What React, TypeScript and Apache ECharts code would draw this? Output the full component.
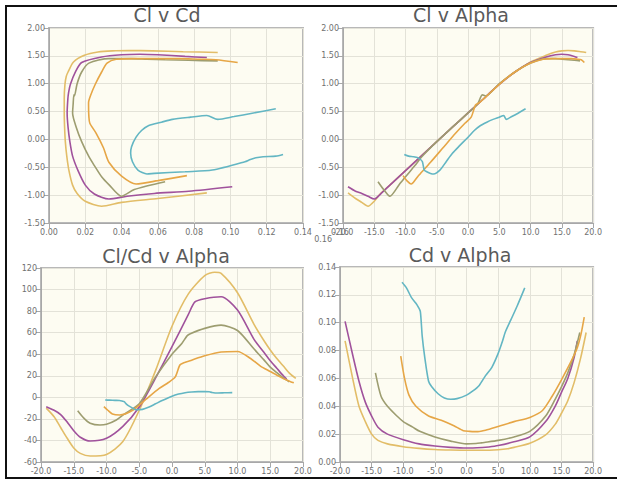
import React, { useEffect, useRef } from "react";
import * as echarts from "echarts";

// ---- data ----
const goldAlpha = [-19.2, -18, -17, -16, -15, -14, -12.5, -10, -7.5, -5, -2.5, 0, 2.5, 5, 6.5, 7.5, 10, 12.5, 14, 15, 16, 17, 18, 18.9];
const goldCl = [-0.96, -1.06, -1.13, -1.2, -1.11, -0.97, -0.82, -0.56, -0.3, -0.04, 0.22, 0.475, 0.73, 0.99, 1.13, 1.21, 1.39, 1.51, 1.57, 1.59, 1.595, 1.59, 1.575, 1.56];
const goldCd = [0.087, 0.06, 0.04, 0.029, 0.02, 0.0155, 0.013, 0.011, 0.0098, 0.009, 0.0086, 0.0084, 0.0084, 0.0088, 0.0095, 0.0105, 0.0135, 0.0195, 0.027, 0.035, 0.044, 0.057, 0.074, 0.093];
const goldClCd = [-10, -18, -28, -38, -47, -52, -54.5, -53, -41, -12, 25, 66, 96, 113, 116, 115, 97, 68, 53, 44, 36, 29, 22, 17.6];

const purpleAlpha = [-19.2, -18, -17, -16, -15, -14, -12.5, -10, -7.5, -5, -2.5, 0, 2.5, 3.5, 5, 7.5, 10, 12.5, 14, 15, 16, 17, 17.5];
const purpleCl = [-0.85, -0.93, -0.97, -1.02, -1.07, -0.98, -0.82, -0.56, -0.3, -0.04, 0.22, 0.475, 0.73, 0.84, 0.99, 1.21, 1.38, 1.48, 1.52, 1.53, 1.52, 1.49, 1.47];
const purpleCd = [0.101, 0.077, 0.058, 0.043, 0.033, 0.025, 0.02, 0.016, 0.013, 0.0115, 0.0105, 0.01, 0.0104, 0.0108, 0.0118, 0.0145, 0.018, 0.029, 0.04, 0.05, 0.06, 0.075, 0.087];
const purpleClCd = [-8.7, -12, -16, -23, -31, -37, -40.5, -38, -27, -9, 18, 47, 77, 88.5, 91.5, 93.3, 81, 54, 42, 34, 27, 20, 17];

const oliveAlpha = [-14.4, -13.5, -12.5, -11, -10, -8.5, -7.4, -5, -2.5, 0, 1.5, 2.3, 2.8, 5, 7.5, 10, 12.5, 14, 15, 16, 17, 17.9];
const oliveCl = [-0.76, -0.9, -1.02, -0.81, -0.67, -0.47, -0.31, -0.04, 0.22, 0.475, 0.63, 0.8, 0.78, 1.0, 1.21, 1.37, 1.45, 1.45, 1.44, 1.43, 1.42, 1.41];
const oliveCd = [0.064, 0.047, 0.04, 0.033, 0.029, 0.025, 0.022, 0.018, 0.015, 0.013, 0.0133, 0.0137, 0.014, 0.0155, 0.018, 0.022, 0.033, 0.045, 0.054, 0.064, 0.077, 0.093];
const oliveClCd = [-12.4, -19, -24, -25.7, -25, -21, -16, -6, 19, 40, 50, 57, 59, 64, 67, 62, 45, 35, 28, 23, 18, 14.5];

const orangeAlpha = [-10.4, -9.8, -9.1, -8, -6, -4, -2, -0.5, 0.5, 1.2, 1.8, 3, 5, 7.5, 10, 12, 13.5, 15, 16.5, 17.5, 18.1, 18.6];
const orangeCl = [-0.65, -0.74, -0.8, -0.66, -0.41, -0.15, 0.11, 0.29, 0.4, 0.62, 0.66, 0.78, 0.99, 1.21, 1.37, 1.44, 1.45, 1.45, 1.45, 1.44, 1.43, 1.38];
const orangeCd = [0.076, 0.06, 0.048, 0.04, 0.033, 0.03, 0.026, 0.0225, 0.022, 0.0218, 0.0218, 0.0228, 0.0255, 0.029, 0.032, 0.037, 0.047, 0.059, 0.072, 0.082, 0.092, 0.104];
const orangeClCd = [-8.6, -12, -15.5, -16.4, -12, -2, 8, 14, 19, 30, 32, 34.5, 38.5, 42, 42.5, 36, 29, 24, 19, 16, 14.5, 13.5];

const tealAlpha = [-10.2, -9.5, -8.7, -8, -7.6, -7.3, -7.0, -6.6, -6.0, -5.5, -4.5, -3.5, -2.5, -1.5, 0, 1, 2, 3, 4, 5, 5.7, 6.1, 7, 8, 9.2];
const tealCl = [-0.27, -0.3, -0.31, -0.33, -0.36, -0.4, -0.55, -0.58, -0.61, -0.62, -0.55, -0.4, -0.25, -0.13, 0.04, 0.16, 0.25, 0.31, 0.36, 0.4, 0.43, 0.36, 0.41, 0.47, 0.55];
const tealCd = [0.129, 0.125, 0.118, 0.114, 0.111, 0.108, 0.09, 0.075, 0.058, 0.054, 0.049, 0.046, 0.045, 0.0455, 0.048, 0.051, 0.055, 0.062, 0.068, 0.078, 0.087, 0.093, 0.102, 0.112, 0.125];
const tealClCd = [-2.5, -2.6, -2.8, -3, -3.5, -4, -6, -8, -10, -11.5, -11.2, -9, -6, -3, 1, 3, 4.3, 5, 5.3, 5.3, 5.2, 4.5, 4, 4.2, 4.4];

const panelTitles = ["Cl v Cd", "Cl v Alpha", "Cl/Cd v Alpha", "Cd v Alpha"];

const POLARS = [
  { name: "A", color: "#e2bd68", alpha: goldAlpha, cl: goldCl, cd: goldCd, clcd: goldClCd },
  { name: "B", color: "#a0529c", alpha: purpleAlpha, cl: purpleCl, cd: purpleCd, clcd: purpleClCd },
  { name: "C", color: "#9d9d70", alpha: oliveAlpha, cl: oliveCl, cd: oliveCd, clcd: oliveClCd },
  { name: "D", color: "#e6a646", alpha: orangeAlpha, cl: orangeCl, cd: orangeCd, clcd: orangeClCd },
  { name: "E", color: "#63b6c3", alpha: tealAlpha, cl: tealCl, cd: tealCd, clcd: tealClCd },
];

const FONT = "DejaVu Sans, Verdana, sans-serif";

function makeAxis(gridIndex: number, min: number, max: number, interval: number, digits: number, isY: boolean) {
  return {
    gridIndex,
    type: "value",
    min,
    max,
    interval,
    axisLine: { show: true, onZero: false, lineStyle: { color: "#a8a8a8", width: 1 } },
    axisTick: { show: true, length: 5, lineStyle: { color: "#a8a8a8" } },
    axisLabel: {
      color: "#707070",
      fontSize: 8,
      fontFamily: FONT,
      margin: isY ? 4 : 5,
      showMinLabel: true,
      showMaxLabel: true,
      formatter: (v: number) => v.toFixed(digits),
    },
    splitLine: { show: true, lineStyle: { color: "#e3e2d8", width: 1 } },
  };
}

export default function App() {
  const ref = useRef<HTMLDivElement>(null);
  useEffect(() => {
    if (!ref.current) return;
    const chart = echarts.init(ref.current, undefined, { renderer: "svg" });
    const gridStyle = {
      show: true,
      backgroundColor: "#fdfcf2",
      borderColor: "#b8b8b8",
      borderWidth: 2,
      containLabel: false,
    };
    const grids = [
      { left: 49, top: 28, width: 254, height: 195, ...gridStyle },
      { left: 343, top: 28, width: 255, height: 195, ...gridStyle },
      { left: 41, top: 268, width: 262, height: 194, ...gridStyle },
      { left: 340, top: 267, width: 258, height: 195, ...gridStyle },
    ];
    const xAxis = [
      makeAxis(0, 0, 0.14, 0.02, 2, false),
      makeAxis(1, -20, 20, 5, 1, false),
      makeAxis(2, -20, 20, 5, 1, false),
      makeAxis(3, -20, 20, 5, 1, false),
    ];
    const yAxis = [
      makeAxis(0, -1.5, 2, 0.5, 2, true),
      makeAxis(1, -1.5, 2, 0.5, 2, true),
      makeAxis(2, -60, 120, 20, 0, true),
      makeAxis(3, 0, 0.14, 0.02, 2, true),
    ];
    const series: any[] = [];
    POLARS.forEach((p) => {
      const base = {
        type: "line",
        name: p.name,
        showSymbol: false,
        symbol: "none",
        smooth: 0.25,
        lineStyle: { color: p.color, width: 1.6 },
        itemStyle: { color: p.color },
      };
      series.push({ ...base, xAxisIndex: 0, yAxisIndex: 0, data: p.cd.map((c, i) => [c, p.cl[i]]) });
      series.push({ ...base, xAxisIndex: 1, yAxisIndex: 1, data: p.alpha.map((a, i) => [a, p.cl[i]]) });
      series.push({ ...base, xAxisIndex: 2, yAxisIndex: 2, data: p.alpha.map((a, i) => [a, p.clcd[i]]) });
      series.push({ ...base, xAxisIndex: 3, yAxisIndex: 3, data: p.alpha.map((a, i) => [a, p.cd[i]]) });
    });
    const titlePos = [
      [167, 15],
      [461, 15],
      [166, 256],
      [460, 255],
    ];
    const graphic: any[] = panelTitles.map((t, i) => ({
      type: "text",
      x: titlePos[i][0],
      y: titlePos[i][1],
      style: { text: t, fill: "#5a5a5a", fontSize: 19, fontFamily: FONT, align: "center", verticalAlign: "middle" },
    }));
    graphic.push({
      type: "text",
      x: 340,
      y: 232,
      style: { text: "0.16", fill: "#707070", fontSize: 8, fontFamily: FONT, align: "center", verticalAlign: "middle" },
    });
    graphic.push({
      type: "text",
      x: 332,
      y: 239,
      style: { text: "0.16", fill: "#707070", fontSize: 8, fontFamily: FONT, align: "right", verticalAlign: "middle" },
    });
    chart.setOption({
      animation: false,
      backgroundColor: "#ffffff",
      grid: grids,
      xAxis,
      yAxis,
      series,
      graphic,
    });
    return () => chart.dispose();
  }, []);
  return (
    <div style={{ position: "fixed", left: 0, top: 0, width: 617, height: 483, background: "#fff", overflow: "hidden" }}>
      <div ref={ref} style={{ position: "absolute", left: 0, top: 0, width: 605, height: 483 }} />
      <div
        style={{
          position: "absolute",
          left: 5,
          top: 5,
          width: 640,
          height: 474,
          borderTop: "2px solid #111",
          borderLeft: "2px solid #111",
          borderBottom: "2px solid #111",
          boxSizing: "border-box",
          pointerEvents: "none",
        }}
      />
    </div>
  );
}
